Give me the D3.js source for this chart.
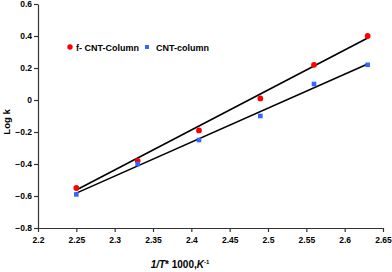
<!DOCTYPE html>
<html>
<head>
<meta charset="utf-8">
<script src="https://cdn.jsdelivr.net/npm/d3@7"></script>
<style>
  body { margin: 0; background: #fff; }
  text { font-family: "Liberation Sans", Arial, sans-serif; font-weight: bold; }
</style>
</head>
<body>
<div id="chart"></div>
<script>
// data
const invT = [2.25, 2.33, 2.41, 2.49, 2.56, 2.63];
const logkF = [-0.55, -0.38, -0.19, 0.01, 0.22, 0.40];   // f- CNT-Column
const logkC = [-0.59, -0.40, -0.25, -0.10, 0.10, 0.22];  // CNT-column
// fitted trend lines (endpoints as drawn)
const fitF = [[2.25, -0.563], [2.63, 0.388]];
const fitC = [[2.25, -0.582], [2.63, 0.225]];
const xTicks = [2.2, 2.25, 2.3, 2.35, 2.4, 2.45, 2.5, 2.55, 2.6, 2.65];
const yTicks = [-0.8, -0.6, -0.4, -0.2, 0, 0.2, 0.4, 0.6];

let width = 392, height = 272;
let mLeft = 38, mRight = 383, mTop = 4, mBottom = 228;

let svg = d3.select("#chart").append("svg")
  .attr("width", width).attr("height", height);

let x = d3.scaleLinear().domain([2.2, 2.65]).range([mLeft, mRight]);
let y = d3.scaleLinear().domain([-0.8, 0.6]).range([mBottom, mTop]);

let fmtY = d => (d === 0 ? "0" : d3.format(".1f")(d));
let fmtX = d => String(+d.toFixed(2));

let xAxis = svg.append("g")
  .attr("transform", "translate(0," + mBottom + ")")
  .call(d3.axisBottom(x).tickValues(xTicks).tickFormat(fmtX).tickSize(4).tickSizeOuter(0));
let yAxis = svg.append("g")
  .attr("transform", "translate(" + mLeft + ",0)")
  .call(d3.axisLeft(y).tickValues(yTicks).tickFormat(fmtY).tickSize(4).tickSizeOuter(0));

[xAxis, yAxis].forEach(g => {
  g.selectAll("path, line").attr("stroke", "#333").attr("stroke-width", 1.2);
  g.selectAll("text").style("font-size", "8.5px").attr("fill", "#000");
});
xAxis.selectAll("text").attr("dy", "0.71em").attr("y", 9);
yAxis.selectAll("text").attr("x", -6);

// trend lines
let line = d3.line().x(d => x(d[0])).y(d => y(d[1]));
[fitF, fitC].forEach(f => {
  svg.append("path").attr("d", line(f))
    .attr("fill", "none").attr("stroke", "#000").attr("stroke-width", 1.6);
});

// points
svg.selectAll(".ptF").data(invT).enter().append("circle")
  .attr("cx", d => x(d)).attr("cy", (d, i) => y(logkF[i]))
  .attr("r", 2.9).attr("fill", "#ff0000");
svg.selectAll(".ptC").data(invT).enter().append("rect")
  .attr("x", d => x(d) - 2.3).attr("y", (d, i) => y(logkC[i]) - 2.3)
  .attr("width", 4.6).attr("height", 4.6).attr("fill", "#3366ff");

// legend
svg.append("circle").attr("cx", 70).attr("cy", 47).attr("r", 2.7).attr("fill", "#ff0000");
svg.append("text").attr("x", 76).attr("y", 50.5).style("font-size", "9px").text("f- CNT-Column");
svg.append("rect").attr("x", 145).attr("y", 45).attr("width", 4).attr("height", 4).attr("fill", "#3366ff");
svg.append("text").attr("x", 156).attr("y", 50.5).style("font-size", "9px").text("CNT-column");

// axis titles
let xt = svg.append("text").attr("x", 180).attr("y", 268)
  .attr("text-anchor", "middle").style("font-size", "10px");
xt.append("tspan").style("font-style", "italic").text("1/T");
xt.append("tspan").text("* 1000,");
xt.append("tspan").style("font-style", "italic").text("K");
xt.append("tspan").attr("dy", -4).style("font-size", "6px").text("-1");

svg.append("text")
  .attr("transform", "translate(10,122) rotate(-90)")
  .attr("text-anchor", "middle").style("font-size", "9.5px").text("Log k");
</script>
</body>
</html>
